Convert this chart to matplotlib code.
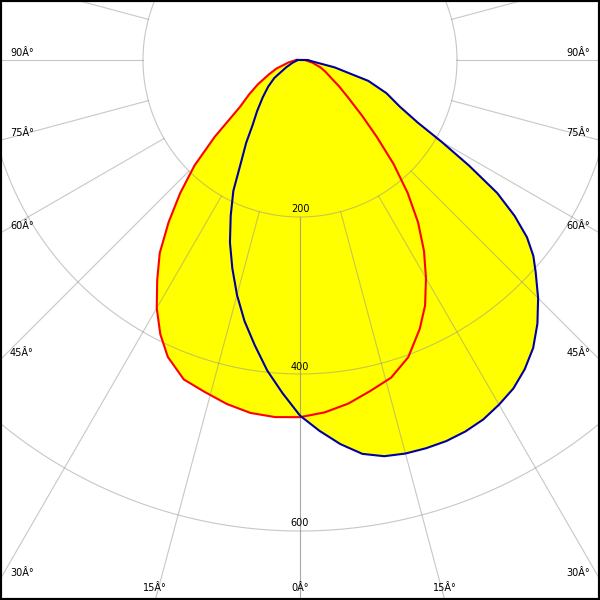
import numpy as np
import matplotlib
matplotlib.use("Agg")
import matplotlib.pyplot as plt

red_left_ang = [0, 4, 8, 12, 16, 20, 24, 27, 30, 33, 36, 39, 42, 45, 48, 52, 56, 60, 65, 70, 78, 90]
red_left_cd = [455, 456, 454, 448, 440, 433, 414, 392, 365, 334, 304, 266, 228, 190, 146, 97, 78, 62, 44, 32, 15, 5]

red_right_ang = [0, 4, 8, 12, 16, 20, 24, 27, 30, 33, 36, 39, 42, 45, 48, 52, 56, 60, 65, 70, 78, 90]
red_right_cd = [455, 450, 442, 431, 421, 403, 375, 351, 321, 290, 256, 218, 178, 138, 107, 78, 60, 46, 36, 28, 16, 6]

blue_left_ang = [0, 3, 6, 9, 12, 15, 18, 21, 24, 27, 30, 33, 36, 40, 45, 50, 55, 62, 70, 80, 90]
blue_left_cd = [453, 425, 398, 368, 340, 310, 279, 249, 217, 187, 150, 126, 103, 85, 67, 53, 40, 20, 10, 4, 3]

blue_right_ang = [0, 3, 6, 9, 12, 15, 18, 21, 24, 27, 30, 33, 36, 39, 42, 45, 48, 50, 52, 54, 56, 58, 60, 62, 65, 69, 73, 78, 84, 90]
blue_right_cd = [453, 473, 492, 508, 516, 519, 520, 520, 518, 514, 507, 499, 487, 472, 452, 429, 404, 388, 367, 338, 303, 254, 208, 170, 140, 118, 91, 45, 15, 10]

circulos = [200, 400, 600]
angulos_grid = [0, 15, 30, 45, 60, 75, 90, 105]
etiquetas_izq = [(90, "90Â°"), (75, "75Â°"), (60, "60Â°"), (45, "45Â°"), (30, "30Â°"), (15, "15Â°"), (0, "0Â°")]
etiquetas_der = [(90, "90Â°"), (75, "75Â°"), (60, "60Â°"), (45, "45Â°"), (30, "30Â°"), (15, "15Â°")]

# escala: 157 px por 200 cd
px = 200 / 157.0
xmin, xmax = -300 * px, 300 * px
ymin, ymax = -540 * px, 60 * px


def curva(ang_l, cd_l, ang_r, cd_r):
    al = np.radians(ang_l[::-1])
    il = np.array(cd_l[::-1], dtype=float)
    ar = np.radians(ang_r)
    ir = np.array(cd_r, dtype=float)
    x = np.concatenate([-il * np.sin(al), ir * np.sin(ar)])
    y = np.concatenate([-il * np.cos(al), -ir * np.cos(ar)])
    return x, y


fig = plt.figure(figsize=(6, 6), dpi=100)
ax = fig.add_axes([0, 0, 1, 1])
ax.set_xlim(xmin, xmax)
ax.set_ylim(ymin, ymax)
ax.set_xticks([])
ax.set_yticks([])
for s in ax.spines.values():
    s.set_linewidth(3)
    s.set_color("black")

xr, yr = curva(red_left_ang, red_left_cd, red_right_ang, red_right_cd)
xb, yb = curva(blue_left_ang, blue_left_cd, blue_right_ang, blue_right_cd)
ax.fill(xr, yr, color="#ffff00", zorder=1, lw=0)
ax.fill(xb, yb, color="#ffff00", zorder=1, lw=0)

# rejilla
t = np.linspace(0, 2 * np.pi, 400)
for r in circulos:
    ax.plot(r * np.cos(t), r * np.sin(t), color="#909090", lw=0.8, alpha=0.5, zorder=2)
    ax.text(0, -r + 7.5 * px, str(r), ha="center", va="center", fontsize=7, zorder=5)
for a in angulos_grid:
    for lado in (-1, 1):
        ang = np.radians(a)
        rr = np.array([200, 1200])
        ax.plot(lado * rr * np.sin(ang), -rr * np.cos(ang), color="#909090", lw=0.8, alpha=0.5, zorder=2)

ax.plot(np.append(xr, xr[0]), np.append(yr, yr[0]), color="#ff0000", lw=1.5, zorder=3)
ax.plot(np.append(xb, xb[0]), np.append(yb, yb[0]), color="#0000a0", lw=1.5, zorder=4)


# etiquetas de angulo en el borde
def borde(a):
    ang = np.radians(a)
    if a == 90:
        return 300 * px, 0.0, "lado"
    yb_ = -300 * px * np.cos(ang) / np.sin(ang) if a > 0 else ymin - 1
    if yb_ > ymin:
        return 300 * px, yb_, "lado"
    xb_ = -ymin * np.tan(ang)
    return xb_, ymin, "abajo"


for a, txt in etiquetas_izq:
    bx, by, donde = borde(a)
    if donde == "lado":
        ax.text(xmin + 10 * px, by + 7 * px, txt, ha="left", va="center", fontsize=7, zorder=5)
    else:
        ax.text(-bx, ymin + 12 * px, txt, ha="center", va="center", fontsize=7, zorder=5)
for a, txt in etiquetas_der:
    bx, by, donde = borde(a)
    if donde == "lado":
        ax.text(xmax - 10 * px, by + 7 * px, txt, ha="right", va="center", fontsize=7, zorder=5)
    else:
        ax.text(bx, ymin + 12 * px, txt, ha="center", va="center", fontsize=7, zorder=5)

fig.savefig("out.png", dpi=100)
